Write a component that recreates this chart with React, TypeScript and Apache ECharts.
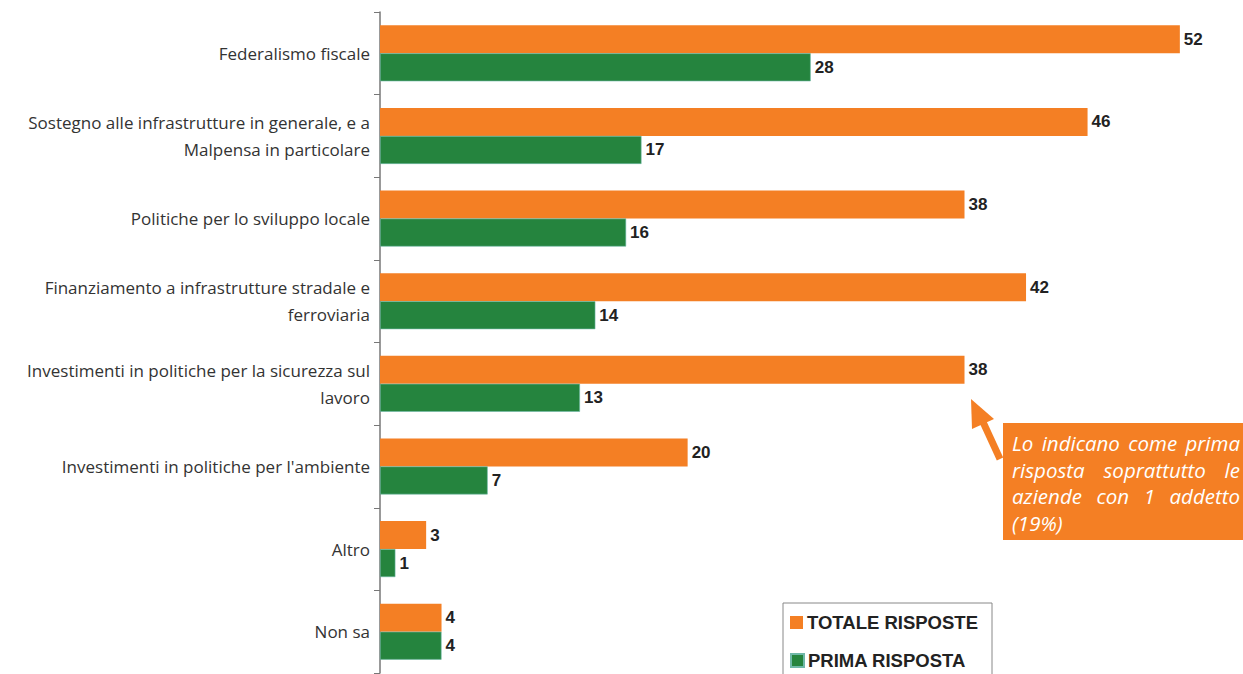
import React, { useEffect, useRef } from "react";
import * as echarts from "echarts";

const categories = [
  "Federalismo fiscale",
  "Sostegno alle infrastrutture in generale, e a\nMalpensa in particolare",
  "Politiche per lo sviluppo locale",
  "Finanziamento a infrastrutture stradale e\nferroviaria",
  "Investimenti in politiche per la sicurezza sul\nlavoro",
  "Investimenti in politiche per l'ambiente",
  "Altro",
  "Non sa",
];
const totaleRisposte = [52, 46, 38, 42, 38, 20, 3, 4];
const primaRisposta = [28, 17, 16, 14, 13, 7, 1, 4];
const seriesNames = ["TOTALE RISPOSTE", "PRIMA RISPOSTA"];
const noteLines = [
  "Lo indicano come prima",
  "risposta soprattutto le",
  "aziende con 1 addetto",
  "(19%)",
];

const ORANGE = "#F47F24";
const GREEN = "#25843E";

const NOTE_SIZE = 20.5;

function buildNote(): any[] {
  const cv = document.createElement("canvas");
  const ctx = cv.getContext("2d")!;
  ctx.font = `italic ${NOTE_SIZE}px 'Open Sans'`;
  const left = 1012;
  const width = 228;
  const out: any[] = [];
  noteLines.forEach((line, i) => {
    const y = 443 + i * 26.5;
    const words = line.split(" ");
    const justify = i < noteLines.length - 1 && words.length > 1;
    const widths = words.map((w) => ctx.measureText(w).width);
    const total = widths.reduce((a, b) => a + b, 0);
    const gap = justify ? (width - total) / (words.length - 1) : ctx.measureText(" ").width;
    let x = left;
    words.forEach((w, j) => {
      out.push({
        type: "text",
        x,
        y,
        style: {
          text: w,
          fill: "#fff",
          fontFamily: "'Open Sans'",
          fontStyle: "italic",
          fontSize: NOTE_SIZE,
          verticalAlign: "middle",
        },
      });
      x += widths[j] + gap;
    });
  });
  return out;
}

export default function App() {
  const ref = useRef<HTMLDivElement>(null);
  useEffect(() => {
    if (!ref.current) return;
    const chart = echarts.init(ref.current, null, { renderer: "svg" });
    const valueLabel = {
      show: true,
      position: "right" as const,
      distance: 4,
      fontFamily: "Liberation Sans, Arial, sans-serif",
      fontWeight: "bold" as const,
      fontSize: 17,
      color: "#222",
    };
    const legendBase = {
      orient: "horizontal" as const,
      left: 790,
      itemWidth: 13,
      itemHeight: 13,
      icon: "rect",
      padding: 0,
      textStyle: {
        fontFamily: "Liberation Sans, Arial, sans-serif",
        fontWeight: "bold" as const,
        fontSize: 18.5,
        color: "#222",
        padding: [0, 0, 0, -1],
      },
    };
    chart.setOption({
      animation: false,
      backgroundColor: "#fff",
      grid: { left: 380, top: 12, width: 846, height: 661, containLabel: false },
      xAxis: {
        type: "value",
        min: 0,
        max: 55,
        show: false,
      },
      yAxis: {
        type: "category",
        data: categories,
        inverse: true,
        axisLine: { show: true, lineStyle: { color: "#777", width: 1.5 } },
        axisTick: { show: true, inside: false, length: 6, lineStyle: { color: "#777" } },
        axisLabel: {
          margin: 10,
          fontFamily: "'Open Sans', sans-serif",
          fontSize: 17,
          color: "#333",
          align: "right",
          lineHeight: 27,
        },
      },
      legend: [
        { ...legendBase, top: 613, data: [seriesNames[0]] },
        { ...legendBase, top: 651, data: [seriesNames[1]] },
      ],
      graphic: [
        {
          type: "rect",
          shape: { x: 783, y: 603, width: 209, height: 90 },
          style: { fill: "none", stroke: "#888", lineWidth: 1 },
          z: 0,
        },
        {
          type: "rect",
          shape: { x: 1003, y: 423, width: 240, height: 117 },
          style: { fill: ORANGE },
        },
        ...buildNote(),
        {
          type: "line",
          shape: { x1: 1000, y1: 459, x2: 983, y2: 422 },
          style: { stroke: ORANGE, lineWidth: 7 },
        },
        {
          type: "polygon",
          shape: { points: [[971, 399], [972, 429], [994, 419]] },
          style: { fill: ORANGE },
        },
      ],
      series: [
        {
          name: seriesNames[0],
          type: "bar",
          data: totaleRisposte,
          barWidth: 28,
          barGap: "0%",
          itemStyle: { color: ORANGE },
          label: valueLabel,
        },
        {
          name: seriesNames[1],
          type: "bar",
          data: primaRisposta,
          barWidth: 28,
          barGap: "0%",
          itemStyle: { color: GREEN, borderColor: "#6fb8a8", borderWidth: 0.6 },
          label: valueLabel,
        },
      ],
    });
    return () => chart.dispose();
  }, []);
  return (
    <div
      ref={ref}
      style={{ position: "absolute", left: 0, top: 0, width: 1243, height: 674 }}
    />
  );
}
